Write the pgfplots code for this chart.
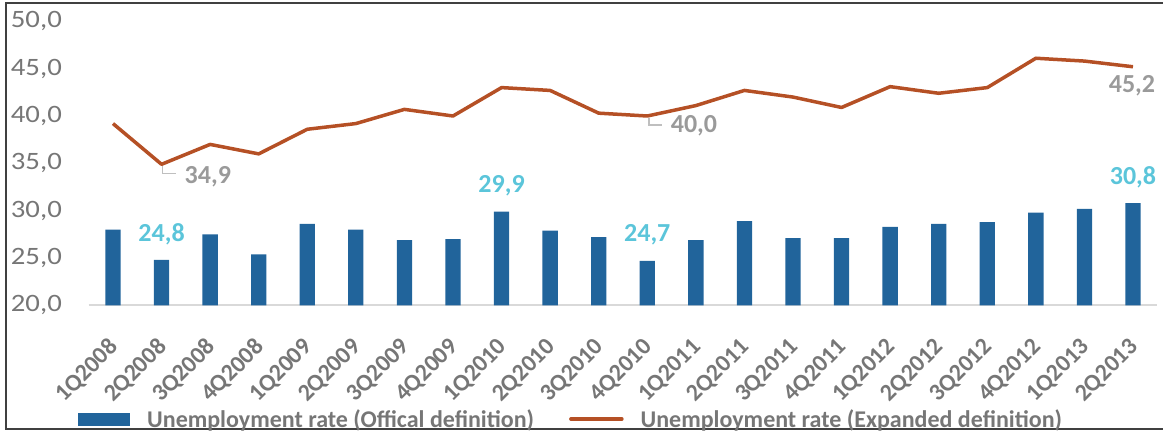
\documentclass[border=0pt]{standalone}
\usepackage{pgfplots}
\pgfplotsset{compat=1.18}
\usepackage{fontspec}
\setmainfont{Carlito}
\newfontfamily\ytfont{Carlito}[FakeStretch=1.15]
\definecolor{barblue}{HTML}{21649B}
\definecolor{linered}{HTML}{B55025}
\definecolor{cyanlbl}{HTML}{5BC5DA}
\definecolor{graylbl}{HTML}{9A9A9A}
\definecolor{tickgray}{HTML}{767676}
\definecolor{axisgray}{HTML}{D9D9D9}
\definecolor{leadergray}{HTML}{BFBFBF}
\tikzset{xlabstyle/.style={font=\bfseries\fontsize{24}{26}\selectfont, text=tickgray, inner sep=0pt, rotate=45, anchor=east}}
\begin{document}
\begin{tikzpicture}
\useasboundingbox (0pt,0pt) rectangle (1163pt,432pt);
\draw[line width=2pt, color=black!75] (1163pt,3pt) -- (6pt,3pt) -- (6pt,429pt) -- (1163pt,429pt);
\begin{axis}[
  at={(88.7pt,126.6pt)}, anchor=south west,
  scale only axis, width=1068.6pt, height=284.1pt,
  xmin=-0.5, xmax=21.5, ymin=20, ymax=50,
  axis x line=bottom, axis y line=left,
  x axis line style={-, draw=axisgray, line width=2pt},
  y axis line style={draw=none},
  major tick length=0pt,
  ytick={20,25,...,50},
  xtick={0,...,21},
  xticklabels={},
  /pgf/number format/assume math mode=true,
  yticklabel={\pgfmathprintnumber[fixed,fixed zerofill,precision=1,use comma]{\tick}},
  yticklabel style={font=\ytfont\fontsize{25}{28}\selectfont, text=tickgray, anchor=east, inner sep=0pt, xshift=-26.7pt},
  clip=false,
  legend columns=2,
  legend style={at={(-0.010,-0.400)}, anchor=west, draw=none, fill=none, inner sep=0pt,
    font=\bfseries\fontsize{24}{26}\selectfont, text=tickgray,
    nodes={inner sep=0pt},
    /tikz/every odd column/.append style={column sep=17pt},
    /tikz/every even column/.append style={column sep=35pt}},
]
\addplot[ybar, bar width=15.3pt, fill=barblue, draw=none,
  legend image code/.code={\fill[barblue] (0pt,-6.5pt) rectangle (52pt,6.5pt);}]
  coordinates {(0,28.0) (1,24.8) (2,27.5) (3,25.4) (4,28.6) (5,28.0) (6,26.9) (7,27.0) (8,29.9) (9,27.9) (10,27.2) (11,24.7) (12,26.9) (13,28.9) (14,27.1) (15,27.1) (16,28.3) (17,28.6) (18,28.8) (19,29.8) (20,30.2) (21,30.8)};
\addlegendentry{Unemployment rate (Offical definition)}
\addplot[linered, line width=3.5pt, no markers, line join=round,
  legend image code/.code={\draw[linered, line width=3.5pt, line cap=round] (0pt,0pt) -- (51pt,0pt);}]
  coordinates {(0,39.2) (1,34.9) (2,37.0) (3,36.0) (4,38.6) (5,39.2) (6,40.7) (7,40.0) (8,43.0) (9,42.7) (10,40.3) (11,40.0) (12,41.1) (13,42.7) (14,42.0) (15,40.9) (16,43.1) (17,42.4) (18,43.0) (19,46.1) (20,45.8) (21,45.2)};
\addlegendentry{Unemployment rate (Expanded definition)}
% category labels
\node[xlabstyle] at ([xshift=1.5pt,yshift=-38pt]axis cs:0,20) {1Q2008};
\node[xlabstyle] at ([xshift=1.5pt,yshift=-38pt]axis cs:1,20) {2Q2008};
\node[xlabstyle] at ([xshift=1.5pt,yshift=-38pt]axis cs:2,20) {3Q2008};
\node[xlabstyle] at ([xshift=1.5pt,yshift=-38pt]axis cs:3,20) {4Q2008};
\node[xlabstyle] at ([xshift=1.5pt,yshift=-38pt]axis cs:4,20) {1Q2009};
\node[xlabstyle] at ([xshift=1.5pt,yshift=-38pt]axis cs:5,20) {2Q2009};
\node[xlabstyle] at ([xshift=1.5pt,yshift=-38pt]axis cs:6,20) {3Q2009};
\node[xlabstyle] at ([xshift=1.5pt,yshift=-38pt]axis cs:7,20) {4Q2009};
\node[xlabstyle] at ([xshift=1.5pt,yshift=-38pt]axis cs:8,20) {1Q2010};
\node[xlabstyle] at ([xshift=1.5pt,yshift=-38pt]axis cs:9,20) {2Q2010};
\node[xlabstyle] at ([xshift=1.5pt,yshift=-38pt]axis cs:10,20) {3Q2010};
\node[xlabstyle] at ([xshift=1.5pt,yshift=-38pt]axis cs:11,20) {4Q2010};
\node[xlabstyle] at ([xshift=1.5pt,yshift=-38pt]axis cs:12,20) {1Q2011};
\node[xlabstyle] at ([xshift=1.5pt,yshift=-38pt]axis cs:13,20) {2Q2011};
\node[xlabstyle] at ([xshift=1.5pt,yshift=-38pt]axis cs:14,20) {3Q2011};
\node[xlabstyle] at ([xshift=1.5pt,yshift=-38pt]axis cs:15,20) {4Q2011};
\node[xlabstyle] at ([xshift=1.5pt,yshift=-38pt]axis cs:16,20) {1Q2012};
\node[xlabstyle] at ([xshift=1.5pt,yshift=-38pt]axis cs:17,20) {2Q2012};
\node[xlabstyle] at ([xshift=1.5pt,yshift=-38pt]axis cs:18,20) {3Q2012};
\node[xlabstyle] at ([xshift=1.5pt,yshift=-38pt]axis cs:19,20) {4Q2012};
\node[xlabstyle] at ([xshift=1.5pt,yshift=-38pt]axis cs:20,20) {1Q2013};
\node[xlabstyle] at ([xshift=1.5pt,yshift=-38pt]axis cs:21,20) {2Q2013};
% data labels
\node[font=\bfseries\fontsize{26}{28}\selectfont, text=cyanlbl] at ([yshift=26pt]axis cs:1,24.8) {24,8};
\node[font=\bfseries\fontsize{26}{28}\selectfont, text=cyanlbl] at ([yshift=25.5pt]axis cs:8,29.9) {29,9};
\node[font=\bfseries\fontsize{26}{28}\selectfont, text=cyanlbl] at ([yshift=26pt]axis cs:11,24.7) {24,7};
\node[font=\bfseries\fontsize{26}{28}\selectfont, text=cyanlbl] at ([yshift=25.5pt]axis cs:21,30.8) {30,8};
\draw[leadergray, line width=1.2pt] ([xshift=1.3pt,yshift=-2pt]axis cs:1,34.9) -- ([xshift=1.3pt,yshift=-9pt]axis cs:1,34.9) -- ([xshift=14pt,yshift=-9pt]axis cs:1,34.9);
\draw[leadergray, line width=1.2pt] ([xshift=1.7pt,yshift=-2pt]axis cs:11,40.0) -- ([xshift=1.7pt,yshift=-9pt]axis cs:11,40.0) -- ([xshift=14.4pt,yshift=-9pt]axis cs:11,40.0);
\node[font=\bfseries\fontsize{26}{28}\selectfont, text=graylbl] at ([xshift=46.3pt,yshift=-12.7pt]axis cs:1,34.9) {34,9};
\node[font=\bfseries\fontsize{26}{28}\selectfont, text=graylbl] at ([xshift=46.7pt,yshift=-10pt]axis cs:11,40.0) {40,0};
\node[font=\bfseries\fontsize{26}{28}\selectfont, text=graylbl] at ([xshift=-1pt,yshift=-19.3pt]axis cs:21,45.2) {45,2};
\end{axis}
\end{tikzpicture}
\end{document}
